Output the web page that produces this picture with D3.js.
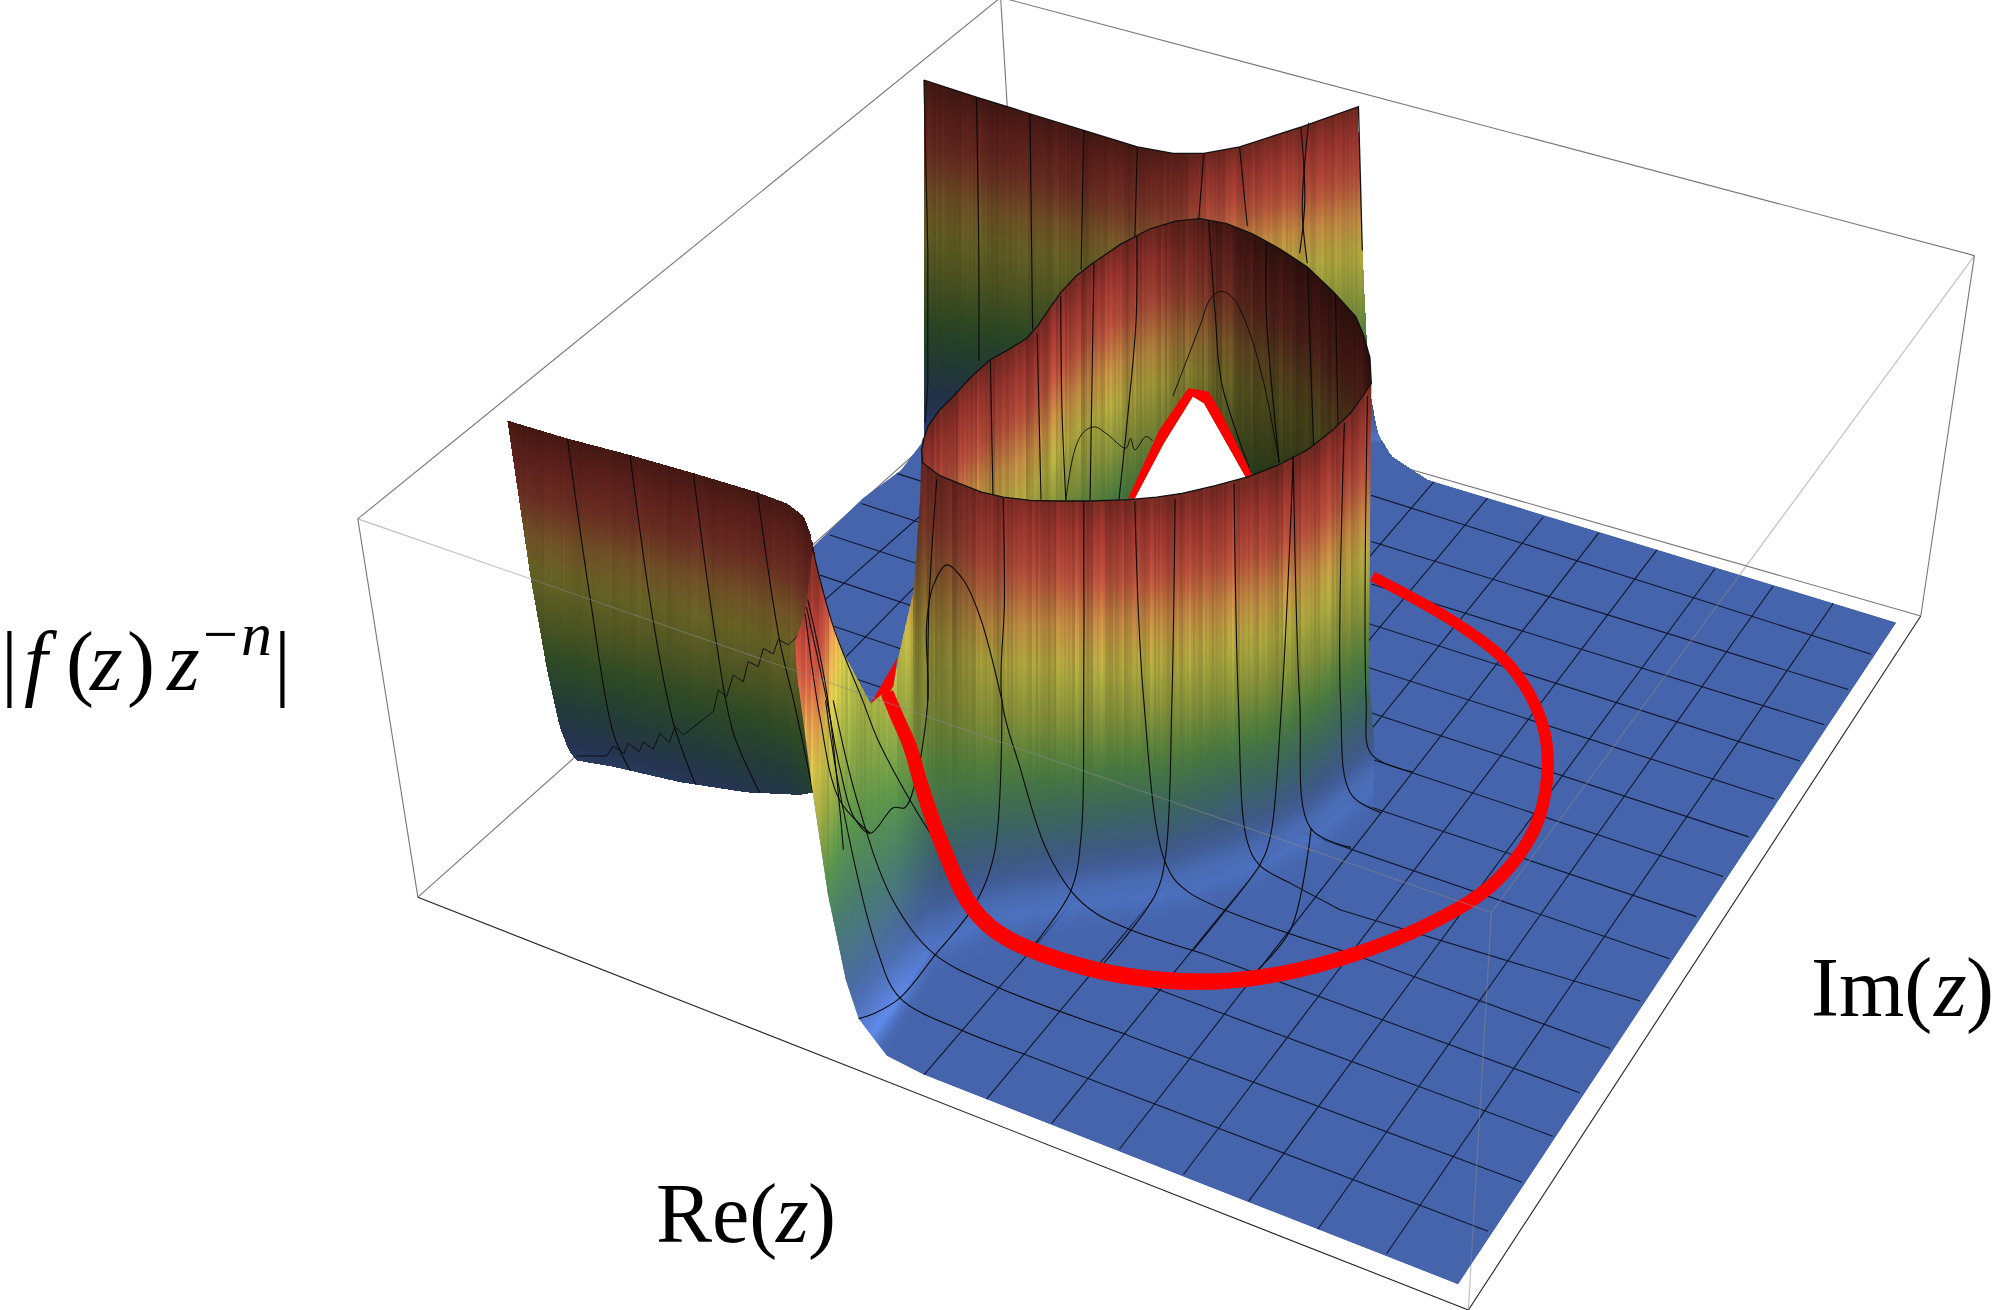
<!DOCTYPE html>
<html><head><meta charset="utf-8">
<style>html,body{margin:0;padding:0;background:#fff}svg{display:block}text{font-family:"Liberation Serif",serif;fill:#000}</style>
<script src="https://cdn.jsdelivr.net/npm/d3@7"></script></head><body>
<svg id="c" width="2000" height="1310"></svg>
<script>
// ---- values (plot units) ----
const boxTop={L:[280,406],B:[783,-2],R:[1545,200],F:[1167,714]};
const boxBot={L:[327,702],B:[800,280],R:[1503,482],F:[1149,1025]};
const floorCorners=[[358,698],[1141,1005],[1484,487],[791,276]];
const floorVisible=[[636,428],[675,390],[705,368],[721,347],[724,331],[791,276],[1484,487],[1141,1005],[723,841],[694,826],[672,797],[662,767],[648,700],[636,620]];
// grid lines across the floor: front edge tick -> back edge tick
const uFront=[[1085,981],[1031,962],[977,940],[926,919],[876,899],[823,879],[772,860],[723,841]];
const uBack=[[1434.6,472],[1387.5,458.5],[1342,445],[1296.7,430],[1251,417],[1207.6,404.6],[1164,389.7],[1122,377]];
const uFar=[[[646,469],[722,402]],[[660,516],[716,459]]];
// grid lines the other way: right edge tick -> far end
const vRight=[[1164.4,963.3],[1191,925],[1215,889],[1236,855],[1260,820.4],[1283.4,783.3],[1306.4,750.2],[1327.4,717.2],[1348.3,685.8],[1368.3,654.8],[1388.5,625.1],[1408.4,595.4],[1427.6,567],[1446.2,539.5],[1464.3,511.9]];
const vLeft=[[802,825],[882,810],[860,757],[941,746],[1057,746],[1049,712],[665,529.5],[649.4,489],[641.6,450],[649.4,418.6],[674,394],[701.6,370.4],[1073,457],[1073,423.7],[1073,387.6]];

const heightStops=[0,.1,.22,.33,.45,.58,.68,.8,.92,1];
const heightColors=["#4f74c4","#3d5689","#3c665a","#4a7a3c","#7f8c38","#a8a03c","#b8863f","#ad4a38","#93322c","#6e2820"];
const floorColor="#4564ab";
const streaks=[.05,-.06,.02,.09,-.03,-.09,.07,.01,-.05,.1,-.02,-.08,.04,.08,-.06,.0,.06,-.1,.03,.07,-.04,.09,-.07,.02,-.03,.08,-.09,.05,.0,-.06,.1,-.02,.04,-.08,.06,-.04,.03];

const rimTop=[[721,352],[723,343],[726,334],[735,321],[746,310],[760,295],[774,282],[790,273],[803,265],[812,255],[820,243],[830,229],[842,216],[855,206],[877,191],[900,179],[920,173],[939,171],[960,175],[980,183],[1002,195],[1023,209],[1044,229],[1061,248],[1067,262],[1072,280],[1073,300]];
const rimFront=[[721,352],[722,362],[735,372],[750,378],[768,385],[785,389],[806,391.5],[827,392],[855,392],[883,391],[905,389],[925,386],[951,380],[977,373],[1000,364],[1023,352],[1041,338],[1057,323],[1065,312],[1073,300]];

const backTop=[[723,62.6],[764,76],[806,89],[848,102],[890,115],[918,120],[942,120],[970,115],[1019,99],[1063,83.5],[1066,196],[1070,274],[1071,300],[1078,339],[1089,357],[1118,376]];
const backBottom=[[723,360],[1071,385],[1118,380]];
const backH0=[[723,345],[1063,360],[1071,345],[1118,345]];
const backShade=[[723,.56],[850,.58],[905,.66],[930,.78],[950,.95],[1000,1],[1118,1]];

const innerShade=[[721,.95],[850,1],[880,.95],[920,.8],[950,.6],[990,.42],[1040,.38],[1073,.38]];

const leftTop=[[397,329],[443.5,343],[493,356],[542,370],[592,385],[616,394],[629,404],[635,420],[637,433]];
const leftBottom=[[397,329],[415,451],[428,524],[438,569],[445,587],[451,595],[480,600],[532,612],[584,620],[626,622],[637,620]];

const frontLeadIn=[[636,430],[647,475],[660,511],[681,550],[699,537],[703,514],[715,462],[720,391]];
const frontLeadOut=[[1071,530],[1075,575],[1110,600],[1110,650],[1000,800],[800,880],[723,841],[694,826],[672,797],[662,767],[648,700],[636,620],[624,530],[622,503],[630,480]];
const frontH1=[[622,455],[640,455],[665,240],[700,285],[730,330],[770,375],[850,392],[922,388],[990,372],[1029,352],[1074,300]];
const frontH0=[[622,820],[640,820],[665,840],[700,790],[730,740],[770,718],[850,703],[922,694],[990,670],[1029,648],[1074,612]];
const frontShade=[[622,1],[712,1],[716,.55],[722,.55],[745,.72],[790,.95],[820,1],[1074,1]];
const frontLift=[[622,1.22],[700,1.22],[735,1],[1074,1]];

const holeOutline=[[975.3,374.2],[942.1,315.5],[933.4,310.3],[910.7,346.8],[888,389.9],[883,396],[984,380]];
const holeRedOutline=[[882.8,389.9],[907.2,336.4],[929.9,303.8],[945.6,306.4],[954.4,320.8],[980.6,372.9],[975.3,374.2],[942.1,315.5],[933.4,310.3],[910.7,346.8],[888,389.9]];
const contour=[[1074,451],[1139.6,487.7],[1181.6,521],[1206,563.7],[1211,602.5],[1201,648],[1169,691],[1121,721.6],[1057,747.6],[990,764],[930,768],[858,759],[786,733],[760,709],[738,663],[722,618],[712,584],[702,561],[694,542]];
const contourT=[0,.25,.45,.62,.8,1];
const contourW=[8,9.5,11,13,12.5,10];
const contourSpike=[[681,551],[702,515],[699,537],[693,546],[690,543]];

const meshBack=[
 [[764,76],[766,200],[766,282]],[[806,89],[808,258]],[[848,102],[846,211]],[[890,115],[888,185]],[[942,120],[938,172]],[[970,115],[976,177]],
 [[1024,96],[1019,164],[1023,206]],[[1018,100],[1021,156],[1017,198]]];
const meshInner=[
 [[775,282],[777,389]],[[811.6,261],[814.6,391]],[[830,232],[831,320],[834,391]],[[856,206],[853,391]],[[889.6,185],[889,250],[883,320],[875.6,391]],
 [[945.7,172],[951,247],[956,300],[979,370]],[[991,190],[991,247],[1001,362]],[[1023,208],[1028,352]],[[1045,228],[1047,333]]];
const arcInnerA=[[834,391.2],[841,352],[848,338],[856.6,334],[865.4,339],[881,350.7],[884.6,343],[888,352],[896.7,341.6],[902,345]];
const arcInnerB=[[917.8,310],[938.6,256],[947.4,233.4],[956,228],[965,233.4],[977,258],[989,300],[1001,362]];
const meshLeft=[
 [[444,343],[462,469.5],[480,574],[493,602.5]],[[493,356],[511,485],[527,566],[545,615.5]],[[542.5,370],[561,506],[574,574],[595,621]],[[592.6,385],[610,501],[621,548],[630,589.5],[636,620]]];
const jagged=[[451.2,591.5],[474.7,591.5],[479.9,583.7],[488.3,589.5],[491.7,581.6],[500.3,588.1],[503.4,580.3],[511.2,586.3],[516.4,573.8],[523.7,581.1],[528.2,568.6],[534.7,575.1],[558.2,556.8],[562.1,539.9],[568.6,545],[573.8,528.2],[581.6,533.4],[585.5,517.7],[593.4,521.6],[597.3,507.3],[605.1,511.7],[609,500.3],[616.8,504.7],[626,495.6]];
const meshFront=[
 [[733,375],[727,470],[726,548]],
 [[631,475],[647,548],[657,600],[668,639],[681,652],[699,632],[708,632],[716,613],[726,548],[725,490],[730,459],[741,442],[754,454],[767,483],[784,548]],
 [[785,389],[786,470],[784,548],[798,600],[818,663],[838,697],[858,715],[886,728],[941,746]],
 [[848,392],[848,548],[846,654],[838,697],[806,743]],
 [[888,392],[895,548],[912,675],[930,698],[1057,746]],
 [[919.5,390],[917,548],[912,670],[904,700],[860,758]],
 [[965.6,378],[969,548],[975.6,657],[985.6,677],[1009.5,691],[1049,712]],
 [[1012,357],[1003,548],[993.5,657],[985.6,677],[960,711],[934,743]],
 [[1012,357],[1017,548],[1025.5,648],[1057,663]],
 [[1026,648],[1010,727],[982,761]],
 [[1052,331],[1049,548],[1057,621],[1081,636]],
 [[1070,310],[1069,548],[1073,590],[1105,604]],
 [[630,480],[641.6,561],[657,626],[681,652]],
 [[632,469],[647,542.5],[660,665]],
 [[636,430],[652,490],[675,548],[687,579],[712,626],[733,660]],
 [[652,548],[670,624],[698,703],[730,745.6],[782,773],[882,809.6]],
 [[646,548],[658,624],[686,742],[704,780.6],[752,806],[802,825]],
 [[672,797],[684,793],[704,781],[732,747],[762,709],[778,668],[784,548]]];

// ---- scales ----
const sx=d3.scaleLinear().domain([0,1565]).range([0,2000]);
const sy=d3.scaleLinear().domain([0,1025]).range([0,1310]);
const knots=k=>d3.scaleLinear().domain(k.map(d=>d[0])).range(k.map(d=>d[1])).clamp(true);
const palette=d3.scaleLinear().domain(heightStops).range(heightColors).interpolate(d3.interpolateRgb).clamp(true);
const line=d3.line().x(d=>sx(d[0])).y(d=>sy(d[1]));
const smooth=d3.line().x(d=>sx(d[0])).y(d=>sy(d[1])).curve(d3.curveCatmullRom.alpha(.5));
const closed=p=>line(p)+"Z";

const svg=d3.select("#c");
const defs=svg.append("defs");
function clip(id,p){defs.append("clipPath").attr("id",id).append("path").attr("d",closed(p));}

// ---- back box lines ----
const gBox=svg.append("g").attr("fill","none").attr("stroke","#777").attr("stroke-width",1.1);
[[boxTop.L,boxTop.B],[boxTop.B,boxTop.R],[boxTop.B,boxBot.B],[boxBot.L,boxBot.B],[boxBot.R,boxBot.B],[boxTop.L,boxBot.L],[boxTop.R,boxBot.R]]
 .forEach(s=>gBox.append("path").attr("d",line(s)));
[[boxBot.L,boxBot.F],[boxBot.F,boxBot.R]].forEach(s=>gBox.append("path").attr("d",line(s)).attr("stroke","#222"));

// ---- floor ----
clip("floorClip",floorVisible);
const gFloor=svg.append("g").attr("clip-path","url(#floorClip)");
gFloor.append("path").attr("d",closed(floorCorners)).attr("fill",floorColor);
const gridSegs=uFront.map((p,i)=>[p,uBack[i]]).concat(uFar).concat(vRight.map((p,i)=>[p,vLeft[i]]));
gFloor.selectAll("path.grid").data(gridSegs).join("path").attr("class","grid").attr("d",line)
 .attr("stroke","#10182e").attr("stroke-width",1.1).attr("fill","none");

// ---- coloured sheets drawn as thin gradient strips ----
let gid=0;
function sheet(g,o){
 const top=knots(o.top),bot=knots(o.bottom),h1=knots(o.h1),h0=knots(o.h0),sh=knots(o.shade);
 const lift=o.lift?knots(o.lift):()=>1;
 const step=1.6,amp=o.amp==null?1:o.amp;
 d3.range(o.x0,o.x1,step).forEach((x,i)=>{
  const xm=x+step/2;
  const yA=Math.min(top(x),top(x+step)),yB=Math.max(bot(x),bot(x+step));
  const id="s"+(gid++);
  const gr=defs.append("linearGradient").attr("id",id).attr("gradientUnits","userSpaceOnUse")
    .attr("x1",0).attr("x2",0).attr("y1",sy(yA)).attr("y2",sy(yB));
  const n=streaks.length;
  const st=(streaks[i%n]*.7+streaks[Math.floor(i/3)%n]*.9+streaks[Math.floor(i/7)%n]*.8)*amp;
  d3.range(0,1.0001,1/24).forEach(f=>{
   const y=yA+(yB-yA)*f;
   const H=(h0(xm)-y)/(h0(xm)-h1(xm));
   let c,op=1;
   if(H>=0){
    let s=sh(xm);
    if(o.shadeHighOnly){const m=Math.max(0,Math.min(1,(H-.3)/.4));s=1+(s-1)*m;}
    s*=1+st*Math.max(0,Math.min(1,(H-.25)/.35));
    s*=lift(xm);
    const r=d3.rgb(palette(H));
    c=d3.rgb(r.r*s,r.g*s,r.b*s).formatRgb();
   } else if(o.fade){
    const d=(y-h0(xm))/30;
    c=d3.interpolateRgb(heightColors[0],floorColor)(Math.min(1,d));
    op=Math.max(0,1-d);
   } else {c=floorColor;}
   gr.append("stop").attr("offset",f).attr("stop-color",c).attr("stop-opacity",op);
  });
  const x2=x+step+.6;
  g.append("path").attr("d",closed([[x,top(x)],[x2,top(x2)],[x2,bot(x2)],[x,bot(x)]])).attr("fill",`url(#${id})`).attr("shape-rendering","crispEdges");
 });
}
function mesh(g,lines,w){lines.forEach(l=>g.append("path").attr("d",smooth(l)).attr("fill","none").attr("stroke","#0a0a0a").attr("stroke-width",w||1.1));}

// back wall
const gBack=svg.append("g");
sheet(gBack,{x0:723,x1:1118,top:backTop,bottom:backBottom,h1:backTop.slice(0,10).concat([[1071,83],[1118,83]]),h0:backH0,shade:backShade,amp:.55});
mesh(gBack,meshBack);
gBack.append("path").attr("d",line(backTop.slice(0,11))).attr("fill","none").attr("stroke","#111").attr("stroke-width",1.3);
gBack.append("path").attr("d",line(backTop.slice(0,1).concat([[726,196],[726,300],[724,331]]))).attr("fill","none").attr("stroke","#111").attr("stroke-width",1.2);

// inner ring wall
clip("innerClip",rimTop.concat(rimFront.slice().reverse()));
const gInner=svg.append("g").attr("clip-path","url(#innerClip)");
sheet(gInner,{x0:721,x1:1074,top:rimTop.map(d=>[d[0],d[1]-3]),bottom:rimFront.map(d=>[d[0],d[1]+3]),h1:rimTop,h0:rimTop.map(d=>[d[0],d[1]+290]),shade:innerShade,amp:.9});
mesh(gInner,meshInner);
mesh(gInner,[arcInnerA,arcInnerB],.9);
gInner.append("path").attr("d",closed(holeOutline)).attr("fill","#fff");
gInner.append("path").attr("d",closed(holeRedOutline)).attr("fill","#fd0000");

// left wall
const gLeft=svg.append("g");
sheet(gLeft,{x0:397,x1:637,top:leftTop,bottom:leftBottom,h1:leftTop,h0:leftTop.map(d=>[d[0],d[1]+265]),shade:[[397,.6],[637,.6]],amp:.3});
clip("leftClip",leftTop.concat(leftBottom.slice().reverse()));
const gLeftMesh=svg.append("g").attr("clip-path","url(#leftClip)");
mesh(gLeftMesh,meshLeft);
gLeftMesh.append("path").attr("d",line(jagged)).attr("fill","none").attr("stroke","#0a0a0a").attr("stroke-width",.9);

// front sheet: ring outer wall and the lit slope
clip("frontClip",frontLeadIn.concat(rimFront,frontLeadOut));
const gFront=svg.append("g").attr("clip-path","url(#frontClip)");
sheet(gFront,{x0:620,x1:1074,top:[[620,400]].concat(rimFront.map(d=>[d[0],d[1]-8])),bottom:frontH0.map(d=>[d[0],d[1]+34]),h1:frontH1,h0:frontH0,shade:frontShade,lift:frontLift,shadeHighOnly:true,fade:true,amp:.8});

// mesh of the front sheet, then rim outline
const gFrontMesh=svg.append("g");
mesh(gFrontMesh,meshFront);

svg.append("path").attr("d",line(rimTop.concat(rimFront.slice().reverse()))+"Z").attr("fill","none").attr("stroke","#111").attr("stroke-width",1.3);

// red contour, its width growing along its length
const gRed=svg.append("g").attr("fill","none").attr("stroke","#fd0000");
const guide=gRed.append("path").attr("d",smooth(contour)).attr("stroke","none").node();
const total=guide.getTotalLength();
const wScale=d3.scaleLinear().domain(contourT).range(contourW);
d3.range(0,1,1/220).forEach(t=>{
 const a=guide.getPointAtLength(t*total),b=guide.getPointAtLength(Math.min(1,t+1.6/220)*total);
 gRed.append("path").attr("d",`M${a.x},${a.y}L${b.x},${b.y}`).attr("stroke-width",wScale(t)*1.278);
});
svg.append("path").attr("d",closed(contourSpike)).attr("fill","#fd0000");

// front box lines, faint over the surface
const gOver=svg.append("g").attr("fill","none").attr("stroke","#888").attr("stroke-width",1.1).attr("stroke-opacity",.55);
[[boxTop.L,boxTop.F],[boxTop.F,boxTop.R],[boxTop.F,boxBot.F]].forEach(s=>gOver.append("path").attr("d",line(s)));

// labels
const sz=84;
function label(y,parts){
 const t=svg.append("text").attr("y",y).attr("font-size",sz);
 parts.forEach(p=>{const s=t.append("tspan").attr("x",p.x).attr("y",p.y||y).text(p.t);
   if(p.i)s.attr("font-style","italic"); if(p.s)s.attr("font-size",p.s);});
}
label(1242,[{x:656,t:"Re("},{x:776,t:"z",i:1},{x:808,t:")"}]);
label(1016,[{x:1811,t:"Im("},{x:1934,t:"z",i:1},{x:1966,t:")"}]);
label(690,[{x:1,t:"|"},{x:24,t:"f",i:1},{x:66,t:"("},{x:90,t:"z",i:1},{x:127,t:")"},{x:167,t:"z",i:1},{x:203,t:"−",y:655,s:62},{x:241,t:"n",i:1,y:655,s:62},{x:274,t:"|"}]);
</script></body></html>
